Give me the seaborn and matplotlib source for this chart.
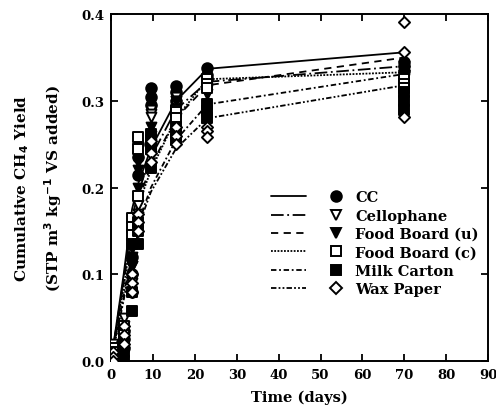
import numpy as np
import pandas as pd
import matplotlib
matplotlib.use("Agg")
import matplotlib.pyplot as plt
from matplotlib.lines import Line2D
from matplotlib.legend_handler import HandlerTuple
import seaborn as sns

# Sampling days (replicate measurements) and days used for the fitted curves
days = [0.5, 3, 5, 6.5, 9.5, 15.5, 23, 70]
fit_days = [0, 3, 5, 6.5, 9.5, 15.5, 23, 70]

materials = ["CC", "Cellophane", "Food Board (u)", "Food Board (c)",
             "Milk Carton", "Wax Paper"]

# Replicate cumulative CH4 yields (m3 STP per kg VS), three per sampling day
cc_reps = [[0.010, 0.005, 0.000], [0.035, 0.025, 0.015], [0.120, 0.100, 0.080],
           [0.250, 0.235, 0.215], [0.315, 0.305, 0.295], [0.317, 0.310, 0.300],
           [0.338, 0.330, 0.325], [0.345, 0.340, 0.335]]
cellophane_reps = [[0.020, 0.010, 0.005], [0.050, 0.040, 0.030], [0.110, 0.095, 0.090],
                   [0.190, 0.180, 0.170], [0.290, 0.285, 0.281], [0.305, 0.300, 0.295],
                   [0.322, 0.318, 0.315], [0.335, 0.330, 0.325]]
fb_u_reps = [[0.010, 0.005, 0.000], [0.030, 0.020, 0.010], [0.130, 0.120, 0.110],
             [0.230, 0.220, 0.200], [0.270, 0.260, 0.250], [0.300, 0.290, 0.280],
             [0.318, 0.312, 0.308], [0.340, 0.335, 0.330]]
fb_c_reps = [[0.015, 0.010, 0.005], [0.040, 0.030, 0.020], [0.165, 0.155, 0.145],
             [0.258, 0.245, 0.190], [0.255, 0.250, 0.245], [0.290, 0.287, 0.280],
             [0.325, 0.320, 0.315], [0.325, 0.320, 0.315]]
milk_reps = [[0.005, 0.000, 0.000], [0.025, 0.010, 0.000], [0.135, 0.080, 0.058],
             [0.160, 0.150, 0.135], [0.262, 0.245, 0.223], [0.270, 0.262, 0.255],
             [0.296, 0.288, 0.280], [0.310, 0.300, 0.290]]
wax_reps = [[0.010, 0.005, 0.000], [0.040, 0.030, 0.020], [0.100, 0.090, 0.080],
            [0.170, 0.160, 0.150], [0.254, 0.240, 0.230], [0.270, 0.260, 0.250],
            [0.270, 0.265, 0.258], [0.391, 0.356, 0.281]]

# Fitted yield curves
cc_fit = [0, 0.100, 0.175, 0.205, 0.245, 0.300, 0.337, 0.356]
cellophane_fit = [0, 0.095, 0.165, 0.195, 0.235, 0.290, 0.322, 0.340]
fb_u_fit = [0, 0.090, 0.155, 0.185, 0.225, 0.280, 0.318, 0.350]
fb_c_fit = [0, 0.085, 0.150, 0.180, 0.220, 0.280, 0.325, 0.333]
milk_fit = [0, 0.075, 0.130, 0.160, 0.200, 0.255, 0.296, 0.331]
wax_fit = [0, 0.070, 0.125, 0.155, 0.195, 0.245, 0.280, 0.318]

x_ticks = [0, 10, 20, 30, 40, 50, 60, 70, 80, 90]
y_ticks = [0.0, 0.1, 0.2, 0.3, 0.4]

reps = [cc_reps, cellophane_reps, fb_u_reps, fb_c_reps, milk_reps, wax_reps]
fits = [cc_fit, cellophane_fit, fb_u_fit, fb_c_fit, milk_fit, wax_fit]

markers = {"CC": "o", "Cellophane": "v", "Food Board (u)": "v",
           "Food Board (c)": "s", "Milk Carton": "s", "Wax Paper": "D"}
filled = {"CC": True, "Cellophane": False, "Food Board (u)": True,
          "Food Board (c)": False, "Milk Carton": True, "Wax Paper": False}
msize = {"CC": 58, "Cellophane": 50, "Food Board (u)": 50,
         "Food Board (c)": 42, "Milk Carton": 42, "Wax Paper": 32}
dashes = {"CC": "",
          "Cellophane": (7, 2, 1, 2),
          "Food Board (u)": (4, 3),
          "Food Board (c)": (1, 0.8),
          "Milk Carton": (3, 1.5, 1, 1.5),
          "Wax Paper": (3, 1.2, 1, 1.2, 1, 1.2)}

rows = []
for m, r in zip(materials, reps):
    for d, vals in zip(days, r):
        for v in vals:
            rows.append({"material": m, "day": d, "yield": v})
pts = pd.DataFrame(rows)

frows = []
for m, f in zip(materials, fits):
    for d, v in zip(fit_days, f):
        frows.append({"material": m, "day": d, "yield": v})
curves = pd.DataFrame(frows)

sns.set_style("ticks")
plt.rcParams["font.family"] = ["DejaVu Serif"]
plt.rcParams["font.weight"] = "bold"
for key in ("text.color", "axes.labelcolor", "xtick.color", "ytick.color",
            "axes.edgecolor"):
    plt.rcParams[key] = "black"

fig = plt.figure(figsize=(4.96, 4.10), dpi=100)
ax = fig.add_axes([0.224, 0.117, 0.760, 0.846])

sns.lineplot(data=curves, x="day", y="yield", style="material",
             dashes=dashes, color="black", linewidth=1.3,
             estimator=None, sort=False, legend=False, ax=ax)

for m in materials:
    sub = pts[pts["material"] == m]
    sns.scatterplot(data=sub, x="day", y="yield", marker=markers[m],
                    s=msize[m], color="black" if filled[m] else "white",
                    edgecolor="black", linewidth=1.4, legend=False,
                    zorder=3, ax=ax)

ax.set_xlim(0, 90)
ax.set_ylim(0, 0.4)
ax.set_xticks(x_ticks)
ax.set_yticks(y_ticks)
ax.set_yticklabels([f"{v:.1f}" for v in y_ticks])
ax.tick_params(direction="in", length=5, width=1.3, top=True, right=True,
               labelsize=9.5, pad=5)
for s in ax.spines.values():
    s.set_linewidth(1.4)
    s.set_visible(True)

ax.set_xlabel("Time (days)", fontsize=10.5, fontweight="bold", labelpad=6)
ax.set_ylabel("Cumulative CH$_\\mathbf{4}$ Yield\n"
              "(STP m$^\\mathbf{3}$ kg$^\\mathbf{-1}$ VS added)",
              fontsize=11, fontweight="bold", labelpad=12, linespacing=1.7)

handles = []
for m in materials:
    ln = Line2D([], [], color="black", linewidth=1.3,
                linestyle=(0, dashes[m]) if dashes[m] else "-")
    mk = Line2D([], [], color="black", linestyle="none", marker=markers[m],
                markersize=np.sqrt(msize[m]),
                markerfacecolor="black" if filled[m] else "white",
                markeredgecolor="black", markeredgewidth=1.4)
    handles.append((ln, mk))

ax.legend(handles, materials,
          handler_map={tuple: HandlerTuple(ndivide=None, pad=0.86)},
          loc="upper left", bbox_to_anchor=(0.39, 0.53), frameon=False,
          handlelength=5.66, handletextpad=0.1, labelspacing=0.3,
          prop={"family": "DejaVu Serif", "weight": "bold", "size": 10.5})

fig.savefig("out.png", dpi=100)
